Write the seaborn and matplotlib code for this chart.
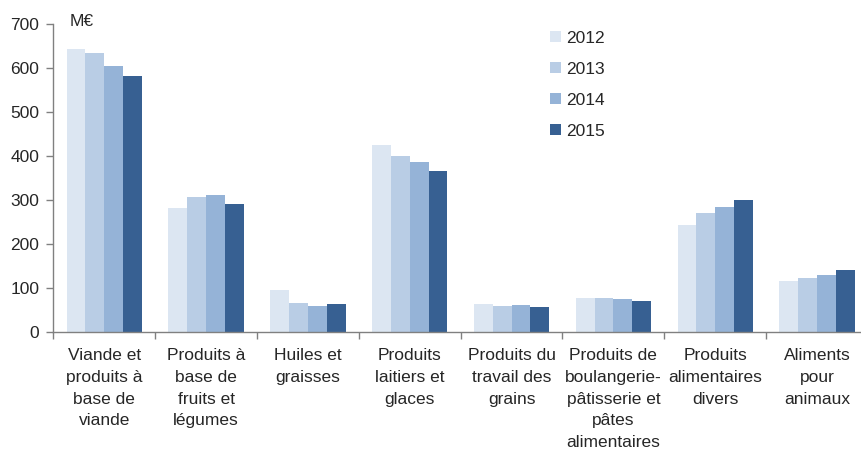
import pandas as pd
import matplotlib
matplotlib.use("Agg")
import matplotlib.pyplot as plt
import seaborn as sns
from matplotlib.ticker import FixedLocator

# données (M€)
categories = [
    "Viande et\nproduits à\nbase de\nviande",
    "Produits à\nbase de\nfruits et\nlégumes",
    "Huiles et\ngraisses",
    "Produits\nlaitiers et\nglaces",
    "Produits du\ntravail des\ngrains",
    "Produits de\nboulangerie-\npâtisserie et\npâtes\nalimentaires",
    "Produits\nalimentaires\ndivers",
    "Aliments\npour\nanimaux",
]
years = ["2012", "2013", "2014", "2015"]
v2012 = [644, 282, 95, 425, 63, 77, 243, 115]
v2013 = [635, 307, 65, 400, 58, 77, 270, 122]
v2014 = [605, 311, 58, 386, 61, 74, 284, 129]
v2015 = [582, 291, 63, 366, 56, 70, 300, 141]
colors = ["#dce6f2", "#b9cde5", "#95b3d7", "#376092"]

rows = []
for year, vals in zip(years, [v2012, v2013, v2014, v2015]):
    for cat, v in zip(categories, vals):
        rows.append({"cat": cat, "year": year, "value": v})
df = pd.DataFrame(rows)

sns.set_style("white")
plt.rcParams['font.family'] = ['Liberation Sans', 'DejaVu Sans']
text_col = "#262626"
fs = 12.5

fig = plt.figure(figsize=(8.62, 4.5), dpi=100)
ax = fig.add_axes([53.3 / 862, 1 - 331.7 / 450, (868 - 53.3) / 862, (331.7 - 24.3) / 450])

sns.barplot(data=df, x="cat", y="value", hue="year", order=categories, hue_order=years,
            palette=colors, width=0.74, saturation=1, linewidth=0, ax=ax)

ax.set_ylim(0, 700)
ax.set_xlim(-0.5, len(categories) - 0.5)
ax.set_yticks(range(0, 701, 100))
ax.set_xlabel("")
ax.set_ylabel("")

# graduations entre les catégories
ax.xaxis.set_minor_locator(FixedLocator([i + 0.5 for i in range(-1, len(categories))]))
ax.tick_params(axis='x', which='major', length=0, pad=12, labelsize=fs, labelcolor=text_col)
ax.tick_params(axis='x', which='minor', bottom=True, direction='out', length=5, width=1, color="#808080")
ax.tick_params(axis='y', left=True, direction='out', length=5, width=1, color="#808080",
               labelsize=fs, labelcolor=text_col, pad=5)
for lab in ax.get_xticklabels():
    lab.set_linespacing(1.55)
    lab.set_horizontalalignment("center")

for s in ["top", "right"]:
    ax.spines[s].set_visible(False)
for s in ["left", "bottom"]:
    ax.spines[s].set_color("#808080")
    ax.spines[s].set_linewidth(1)

ax.text(70 / 862, 1 - 22 / 450, "M€", transform=fig.transFigure, fontsize=fs,
        color=text_col, ha="left", va="center")

handles, labels = ax.get_legend_handles_labels()
ax.legend(handles, labels, loc="upper left", bbox_to_anchor=(541 / 862, 1 - 22 / 450),
          bbox_transform=fig.transFigure, frameon=False, fontsize=fs, borderpad=0,
          handlelength=0.65, handleheight=0.65, handletextpad=0.3, labelspacing=0.92,
          labelcolor=text_col)

fig.savefig("out.png", dpi=100)
